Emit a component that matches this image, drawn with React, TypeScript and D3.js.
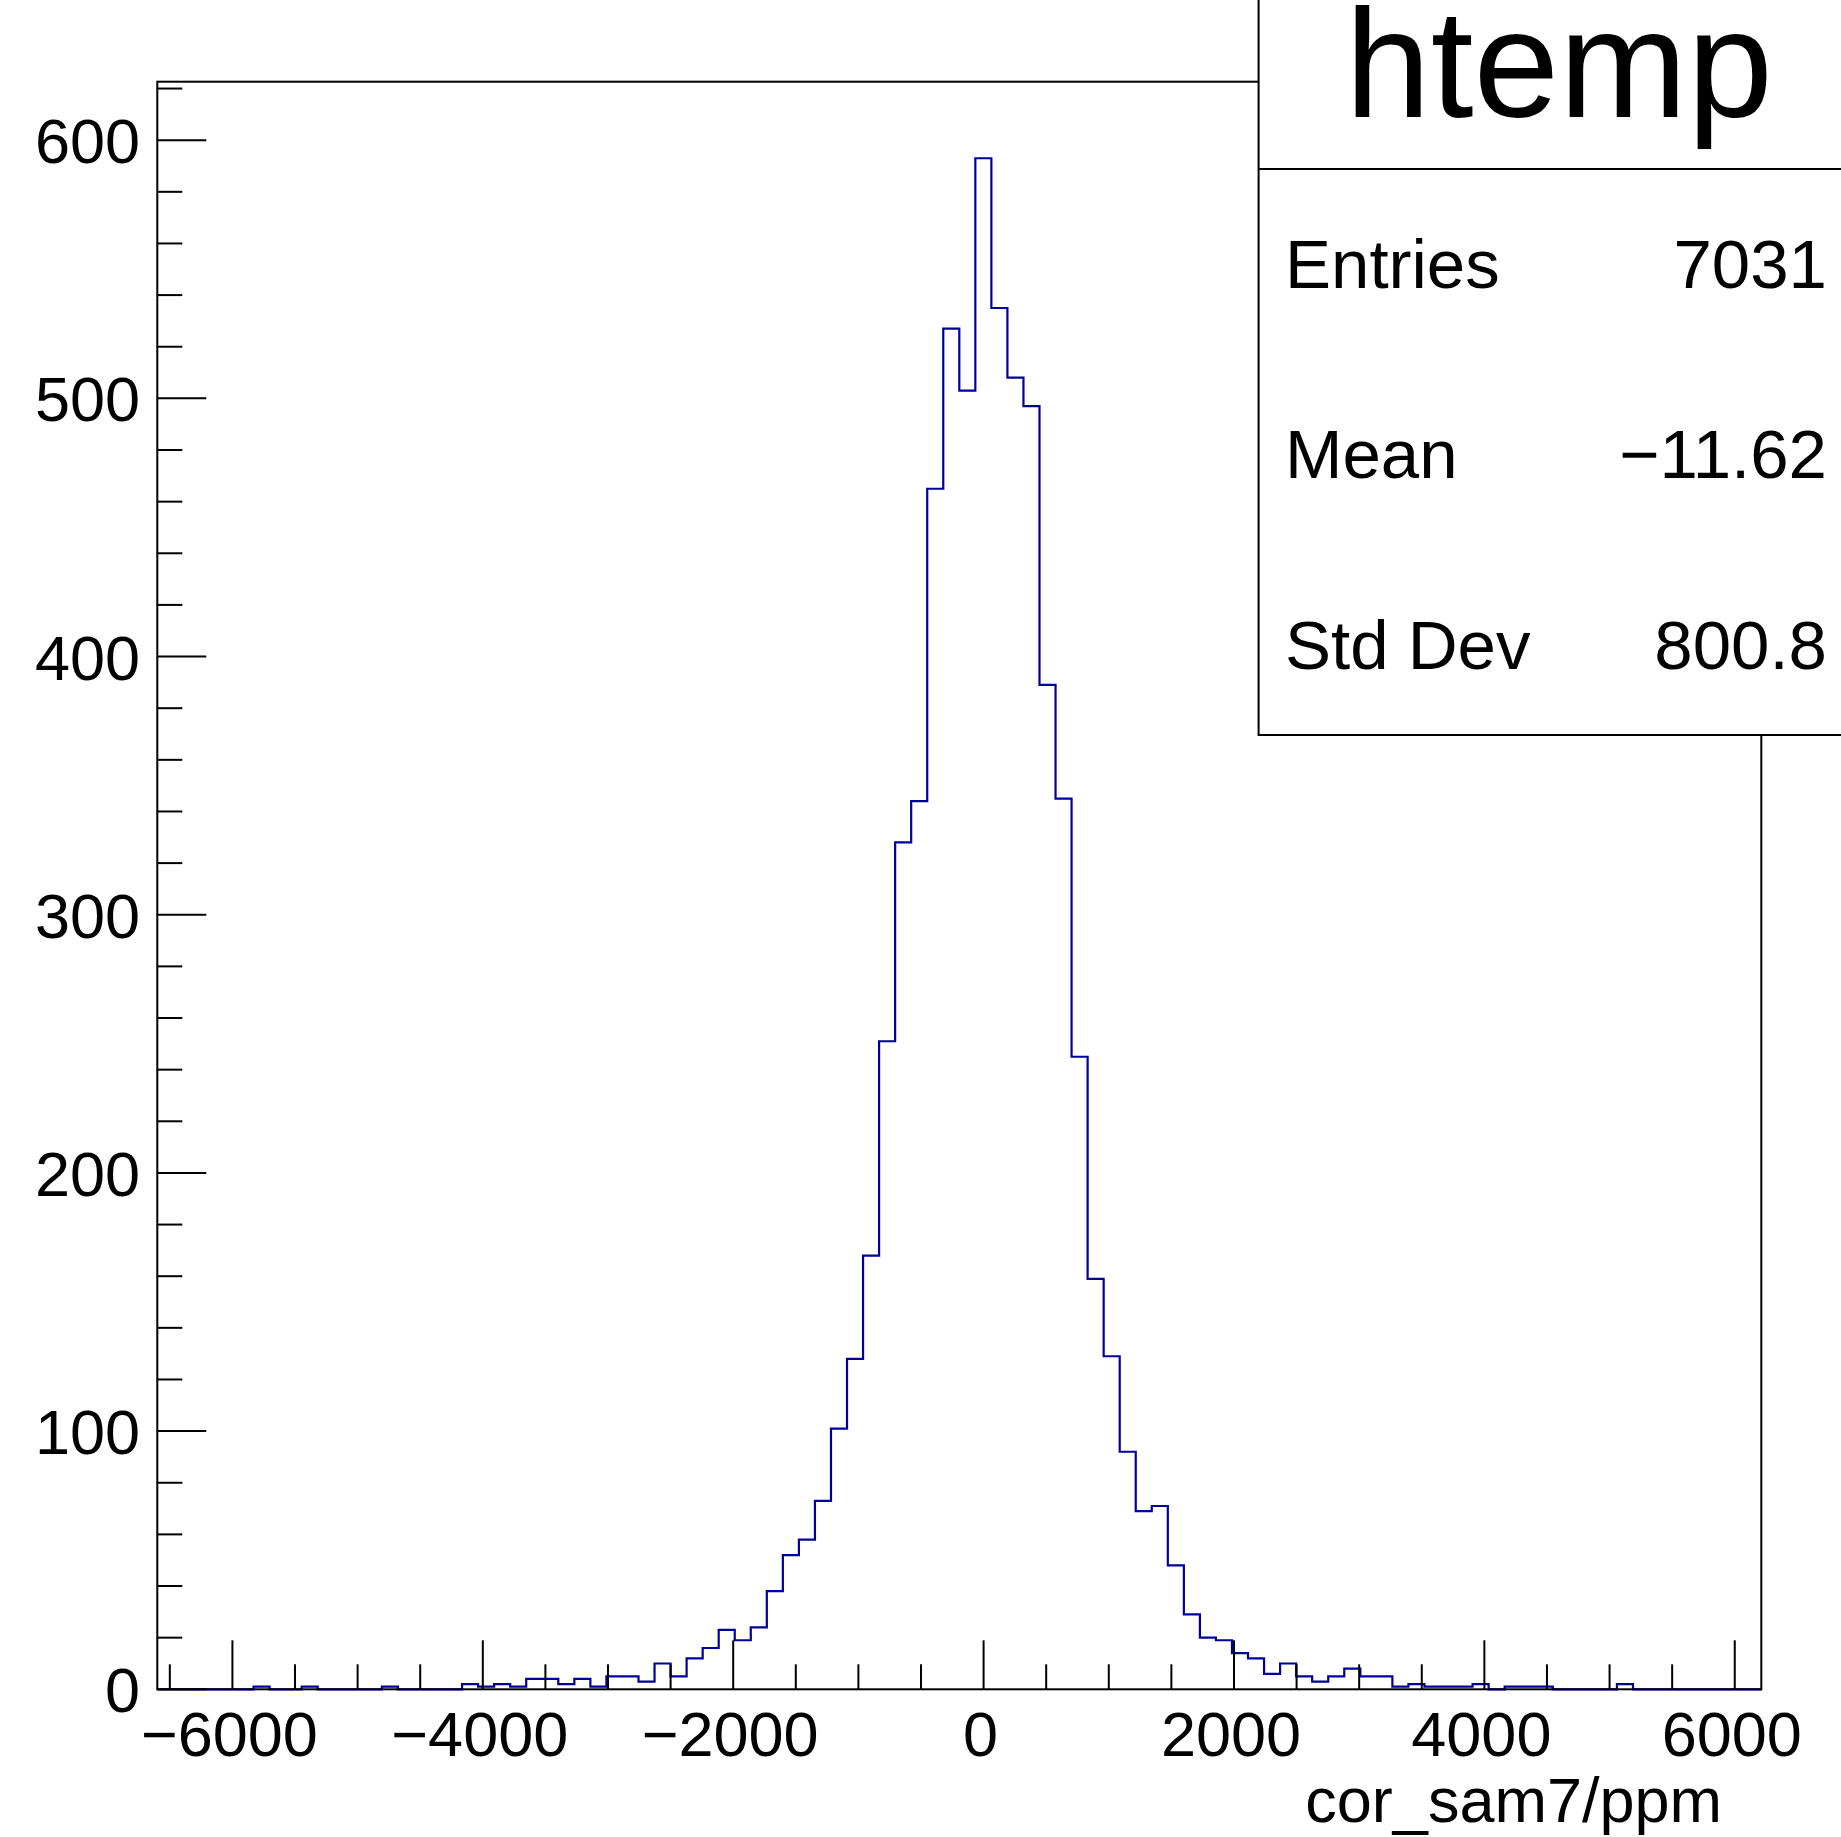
import React, {FC, useEffect, useRef} from 'react';
import * as d3 from 'd3';

// bin contents of htemp (100 bins)
const counts: number[] = [
  0, 0, 0, 0, 0, 0, 1, 0, 0, 1,
  0, 0, 0, 0, 1, 0, 0, 0, 0, 2,
  1, 2, 1, 4, 4, 2, 4, 1, 5, 5,
  3, 10, 5, 12, 16, 23, 19, 24, 38, 52,
  58, 73, 101, 128, 168, 251, 328, 344, 465, 527,
  503, 593, 535, 508, 497, 389, 345, 245, 159, 129,
  92, 69, 71, 48, 29, 20, 19, 14, 12, 6,
  10, 5, 3, 5, 8, 5, 5, 1, 2, 1,
  1, 1, 2, 0, 1, 1, 1, 0, 0, 0,
  0, 2, 0, 0, 0, 0, 0, 0, 0, 0,
];

// histogram axis range
const xRange: [number, number] = [-6600, 6212];

const xMajorTicks = [-6000, -4000, -2000, 0, 2000, 4000, 6000];
const yMajorTicks = [0, 100, 200, 300, 400, 500, 600];

const histTitle = 'htemp';
const xTitle = 'cor_sam7/ppm';
const statLabels = ['Entries', 'Mean', 'Std Dev'];
const statValues = ['7031', '\u221211.62', '800.8'];

const W = 1841;
const H = 1837;
const frame = {left: 157.3, right: 1761.3, top: 81.7, bottom: 1689.3};
const font = "'Liberation Sans', Arial, Helvetica, sans-serif";

const fmt = (d: number) => (d < 0 ? '\u2212' + Math.abs(d) : String(d));

const App: FC = () => {
  const ref = useRef<SVGSVGElement>(null);

  useEffect(() => {
    const svg = d3.select(ref.current);
    svg.selectAll('*').remove();

    const yMax = 1.05 * (d3.max(counts) as number);
    const x = d3.scaleLinear().domain(xRange).range([frame.left, frame.right]);
    const y = d3.scaleLinear().domain([0, yMax]).range([frame.bottom, frame.top]);
    const binWidth = (xRange[1] - xRange[0]) / counts.length;

    // histogram outline
    const pts: [number, number][] = [[x(xRange[0]), y(0)]];
    counts.forEach((c, i) => {
      const lo = xRange[0] + i * binWidth;
      pts.push([x(lo), y(c)], [x(lo + binWidth), y(c)]);
    });
    pts.push([x(xRange[1]), y(0)]);
    svg
      .append('path')
      .attr('d', d3.line()(pts))
      .attr('fill', 'none')
      .attr('stroke', '#000099')
      .attr('stroke-width', 2.2);

    // frame
    svg
      .append('rect')
      .attr('x', frame.left)
      .attr('y', frame.top)
      .attr('width', frame.right - frame.left)
      .attr('height', frame.bottom - frame.top)
      .attr('fill', 'none')
      .attr('stroke', '#000')
      .attr('stroke-width', 2);

    // y ticks
    const yMinor = d3.range(0, yMax, 20);
    svg
      .append('g')
      .selectAll('line')
      .data(yMinor)
      .enter()
      .append('line')
      .attr('x1', frame.left)
      .attr('x2', d => frame.left + (d % 100 === 0 ? 49 : 25))
      .attr('y1', d => y(d))
      .attr('y2', d => y(d))
      .attr('stroke', '#000')
      .attr('stroke-width', 2);
    svg
      .append('g')
      .selectAll('text')
      .data(yMajorTicks)
      .enter()
      .append('text')
      .attr('x', 140)
      .attr('y', d => y(d) + 23)
      .attr('text-anchor', 'end')
      .style('font-family', font)
      .style('font-size', '63px')
      .text(fmt);

    // x ticks
    const xMinor = d3.range(-6500, xRange[1], 500);
    svg
      .append('g')
      .selectAll('line')
      .data(xMinor)
      .enter()
      .append('line')
      .attr('x1', d => x(d))
      .attr('x2', d => x(d))
      .attr('y1', frame.bottom)
      .attr('y2', d => frame.bottom - (d % 2000 === 0 ? 49 : 25))
      .attr('stroke', '#000')
      .attr('stroke-width', 2);
    svg
      .append('g')
      .selectAll('text')
      .data(xMajorTicks)
      .enter()
      .append('text')
      .attr('x', d => x(d) - 3)
      .attr('y', 1756)
      .attr('text-anchor', 'middle')
      .style('font-family', font)
      .style('font-size', '63px')
      .text(fmt);
    svg
      .append('text')
      .attr('x', 1722)
      .attr('y', 1822)
      .attr('text-anchor', 'end')
      .style('font-family', font)
      .style('font-size', '63px')
      .text(xTitle);

    // title + stats box
    const boxLeft = 1258.6;
    svg
      .append('rect')
      .attr('x', boxLeft)
      .attr('y', -10)
      .attr('width', 620)
      .attr('height', 745)
      .attr('fill', '#fff')
      .attr('stroke', '#000')
      .attr('stroke-width', 2);
    svg
      .append('line')
      .attr('x1', boxLeft)
      .attr('x2', W + 10)
      .attr('y1', 169)
      .attr('y2', 169)
      .attr('stroke', '#000')
      .attr('stroke-width', 2);
    svg
      .append('text')
      .attr('x', 1559)
      .attr('y', 117)
      .attr('text-anchor', 'middle')
      .style('font-family', font)
      .style('font-size', '154px')
      .text(histTitle);

    const rowY = [288, 478, 669];
    svg
      .append('g')
      .selectAll('text')
      .data(statLabels)
      .enter()
      .append('text')
      .attr('x', 1285)
      .attr('y', (_, i) => rowY[i])
      .style('font-family', font)
      .style('font-size', '69px')
      .text(d => d);
    svg
      .append('g')
      .selectAll('text')
      .data(statValues)
      .enter()
      .append('text')
      .attr('x', 1827)
      .attr('y', (_, i) => rowY[i])
      .attr('text-anchor', 'end')
      .style('font-family', font)
      .style('font-size', '69px')
      .text(d => d);
  }, []);

  return (
    <svg
      ref={ref}
      width={W}
      height={H}
      style={{position: 'absolute', left: 0, top: 0, background: '#fff'}}
    />
  );
};

export default App;
